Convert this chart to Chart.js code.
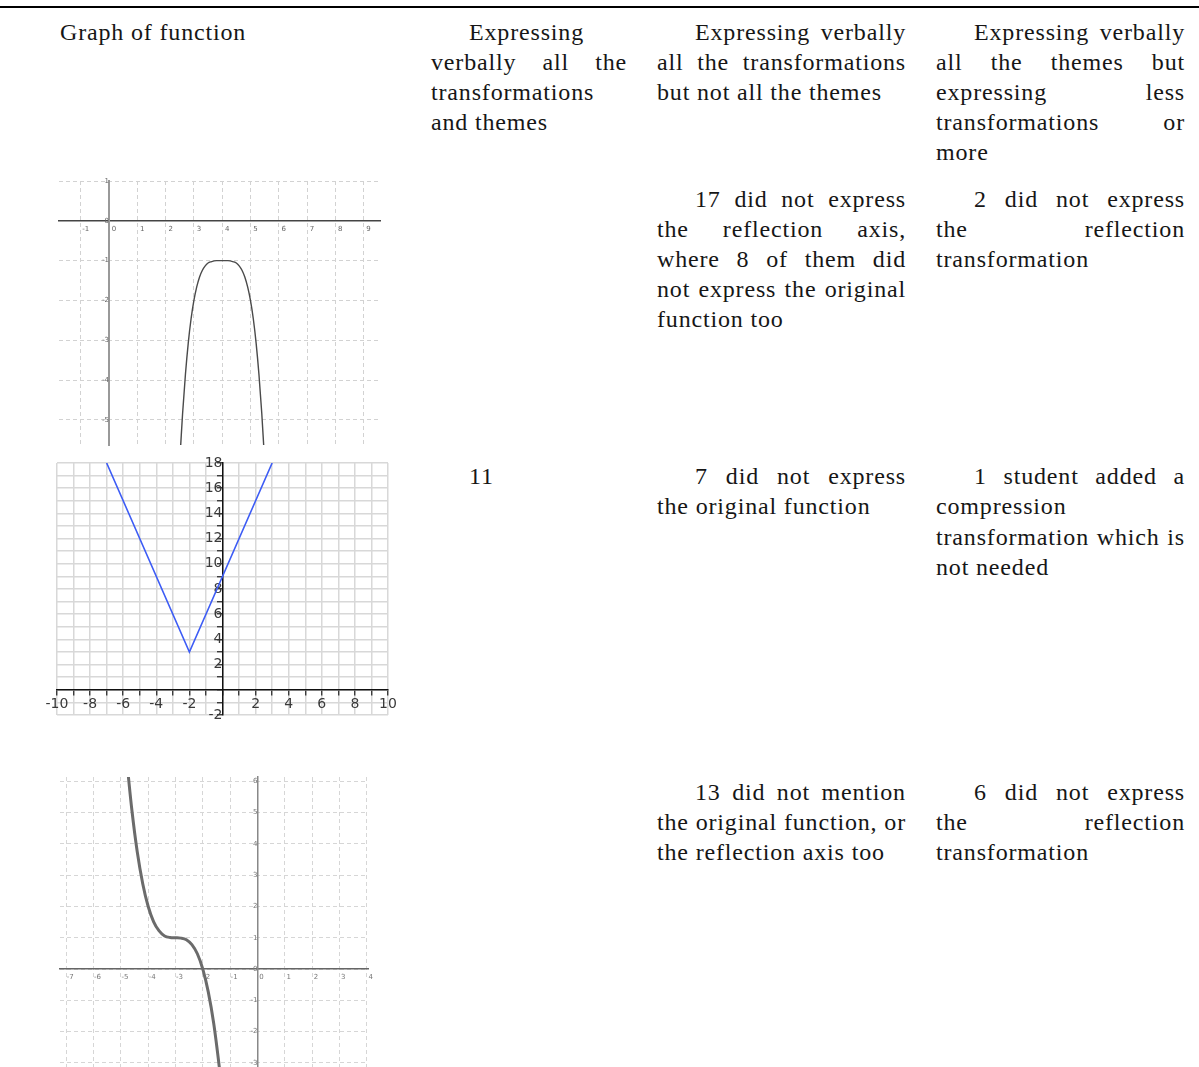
<!DOCTYPE html>
<html>
<head>
<meta charset="utf-8">
<script src="https://cdn.jsdelivr.net/npm/chart.js@4.4.1/dist/chart.umd.min.js"></script>
<style>
    body { margin: 0; width: 1199px; height: 1067px; position: relative; overflow: hidden; background: #fff; }
    .rule { position: absolute; left: 0; top: 6px; width: 1199px; height: 2px; background: #000; }
    .cell { position: absolute; font-size: 24px; color: #161616; }
    .ln { white-space: nowrap; }
    .j { display: flex; justify-content: space-between; }
    canvas { position: absolute; }
</style>
</head>
<body>
<div class="rule"></div>
<canvas id="g1" width="360" height="290" style="left:40px;top:170px"></canvas>
<canvas id="g2" width="380" height="285" style="left:30px;top:450px"></canvas>
<canvas id="g3" width="340" height="302" style="left:40px;top:765px"></canvas>
<script>
    // graph 1: flat topped curve, peak at (4, -1)
    var capX = [2.53, 2.6, 2.7, 2.8, 2.9, 3.0, 3.1, 3.2, 3.3, 3.4, 3.5, 3.6, 3.8, 4.0, 4.2, 4.4, 4.5, 4.6, 4.7, 4.8, 4.9, 5.0, 5.1, 5.2, 5.3, 5.4, 5.47];
    var capY = [-5.67, -4.84, -3.86, -3.07, -2.46, -2.0, -1.66, -1.41, -1.24, -1.13, -1.06, -1.03, -1.0, -1.0, -1.0, -1.03, -1.06, -1.13, -1.24, -1.41, -1.66, -2.0, -2.46, -3.07, -3.86, -4.84, -5.67];

    // graph 2: V shape, vertex at (-2, 3)
    var vX = [-7, -2, 3];
    var vY = [18, 3, 18];

    // graph 3: falling cubic, flat at (-3, 1)
    var cubX = [-4.75, -4.6, -4.4, -4.2, -4.0, -3.8, -3.6, -3.4, -3.2, -3.0, -2.8, -2.6, -2.4, -2.2, -2.0, -1.8, -1.6, -1.4, -1.35];
    var cubY = [6.36, 5.1, 3.74, 2.73, 2.0, 1.51, 1.22, 1.06, 1.01, 1.0, 0.99, 0.94, 0.78, 0.49, 0.0, -0.73, -1.74, -3.1, -3.49];

    var cells = [
        [60, 17, 30, ["Graph of function"]],
        [431, 17, 30, ["~Expressing", "verbally all the=", "transformations", "and themes"]],
        [657, 17, 30, ["~Expressing verbally=", "all the transformations=", "but not all the themes"]],
        [936, 17, 30, ["~Expressing verbally=", "all the themes but=", "expressing less=", "transformations or=", "more"]],
        [657, 184, 30, ["~17 did not express=", "the reflection axis,=", "where 8 of them did=", "not express the original=", "function too"]],
        [936, 184, 30, ["~2 did not express=", "the reflection=", "transformation"]],
        [431, 461, 30.3, ["~11"]],
        [657, 461, 30.3, ["~7 did not express=", "the original function"]],
        [936, 461, 30.3, ["~1 student added a=", "compression", "transformation which is=", "not needed"]],
        [657, 777, 30, ["~13 did not mention=", "the original function, or=", "the reflection axis too"]],
        [936, 777, 30, ["~6 did not express=", "the reflection=", "transformation"]]
    ];

    // pick the first serif face that is really installed
    var probe = document.createElement("canvas").getContext("2d");
    function widthIn(fam, txt) {
        probe.font = "24px " + fam;
        return probe.measureText(txt).width;
    }
    var serifs = ['"Liberation Serif"', '"Times New Roman"', 'Tinos', '"DejaVu Serif"', '"Noto Serif"'];
    var face = "serif";
    for (var k = 0; k < serifs.length; k++) {
        var t0 = "mmmwwwiiilll ABC";
        if (widthIn(serifs[k] + ", monospace", t0) !== widthIn("monospace", t0)) {
            face = serifs[k];
            break;
        }
    }
    // fit "but not all the themes" to its width in the picture (225px)
    var wRef = widthIn(face, "but not all the themes");
    var fSize = 24, spacing = 0;
    if (wRef > 225) {
        fSize = 24 * 225 / wRef;
    } else {
        spacing = (225 - wRef) / 22;
    }

    cells.forEach(function (c) {
        var box = document.createElement("div");
        box.className = "cell";
        box.style.fontFamily = face + ", serif";
        box.style.fontSize = fSize + "px";
        box.style.letterSpacing = spacing + "px";
        box.style.left = c[0] + "px";
        box.style.top = c[1] + "px";
        box.style.width = (c[0] === 431 ? 196 : 249) + "px";
        box.style.lineHeight = c[2] + "px";
        c[3].forEach(function (t) {
            var line = document.createElement("div");
            line.className = "ln";
            if (t.charAt(0) === "~") {
                t = t.slice(1);
                line.style.paddingLeft = "38px";
            }
            if (t.slice(-1) === "=") {
                t = t.slice(0, -1);
                line.className += " j";
                t.split(" ").forEach(function (w) {
                    var s = document.createElement("span");
                    s.textContent = w;
                    line.appendChild(s);
                });
            } else {
                line.textContent = t;
            }
            box.appendChild(line);
        });
        document.body.appendChild(box);
    });

    function pts(xs, ys) {
        return xs.map(function (x, i) { return {x: x, y: ys[i]}; });
    }

    function zeroPad(s) {
        s.paddingLeft = 0;
        s.paddingRight = 0;
        s.paddingTop = 0;
        s.paddingBottom = 0;
    }

    function evenOnly(v) {
        return (v % 2 === 0 && v !== 0) ? v : "";
    }

    var tiny = {family: "DejaVu Sans", size: 7};

    function base(pad) {
        return {
            responsive: false,
            animation: false,
            events: [],
            layout: {padding: pad},
            plugins: {legend: {display: false}, tooltip: {enabled: false}}
        };
    }

    // graph 1
    var o1 = base({left: 19, top: 11, right: 20, bottom: 15});
    o1.scales = {
        x: {
            type: "linear", min: -1.77, max: 9.58, position: {y: 0},
            ticks: {stepSize: 1, includeBounds: false, autoSkip: false, maxRotation: 0, font: tiny, color: "#666", padding: 4, labelOffset: 5},
            grid: {color: "#d2d2d2", drawTicks: false},
            border: {color: "#444", width: 1.6, dash: [4, 3]},
            afterFit: zeroPad
        },
        y: {
            type: "linear", min: -5.63, max: 1, position: {x: 0},
            ticks: {stepSize: 1, includeBounds: false, autoSkip: false, font: tiny, color: "#666", padding: 4},
            grid: {color: "#d2d2d2", drawTicks: false},
            border: {color: "#999", width: 2, dash: [4, 3]},
            afterFit: zeroPad
        }
    };
    new Chart(document.getElementById("g1"), {
        type: "scatter",
        data: {datasets: [{data: pts(capX, capY), showLine: true, borderColor: "#4a4a4a", borderWidth: 1.4, pointRadius: 0, cubicInterpolationMode: "monotone"}]},
        options: o1
    });

    // graph 2
    var lbl = {family: "DejaVu Sans", size: 14};
    var o2 = base({left: 27, top: 13, right: 22, bottom: 20});
    o2.scales = {
        x: {
            type: "linear", min: -10, max: 10, position: {y: 0},
            ticks: {stepSize: 1, autoSkip: false, maxRotation: 0, font: lbl, color: "#3a3a3a", padding: 1, callback: evenOnly},
            grid: {color: "#d8d8d8", lineWidth: 1.5, tickLength: 5, tickColor: "#222", tickWidth: 1.2},
            border: {color: "#111", width: 1.5},
            afterFit: zeroPad
        },
        y: {
            type: "linear", min: -2, max: 18, position: {x: 0},
            ticks: {stepSize: 1, autoSkip: false, font: lbl, color: "#3a3a3a", padding: 3, callback: evenOnly},
            grid: {color: "#d8d8d8", lineWidth: 1.5, tickLength: 5, tickColor: "#222", tickWidth: 1.2},
            border: {color: "#111", width: 1.5},
            afterFit: zeroPad
        }
    };
    new Chart(document.getElementById("g2"), {
        type: "scatter",
        data: {datasets: [{data: pts(vX, vY), showLine: true, borderColor: "#3d5cf5", borderWidth: 1.6, pointRadius: 0, tension: 0}]},
        options: o2
    });

    // graph 3
    var o3 = base({left: 20, top: 12, right: 12, bottom: 0});
    o3.scales = {
        x: {
            type: "linear", min: -7.23, max: 4.05, position: {y: 0},
            ticks: {stepSize: 1, includeBounds: false, autoSkip: false, maxRotation: 0, font: tiny, color: "#777", padding: 4, labelOffset: 4},
            grid: {color: "#d6d6d6", drawTicks: false},
            border: {color: "#666", width: 1.5, dash: [4, 3]},
            afterFit: zeroPad
        },
        y: {
            type: "linear", min: -3.13, max: 6.14, position: {x: 0},
            ticks: {stepSize: 1, includeBounds: false, autoSkip: false, font: tiny, color: "#777", padding: 3},
            grid: {color: "#d6d6d6", drawTicks: false},
            border: {color: "#888", width: 1.5, dash: [4, 3]},
            afterFit: zeroPad
        }
    };
    new Chart(document.getElementById("g3"), {
        type: "scatter",
        data: {datasets: [{data: pts(cubX, cubY), showLine: true, borderColor: "#6b6b6b", borderWidth: 3, pointRadius: 0, cubicInterpolationMode: "monotone"}]},
        options: o3
    });
</script>
</body>
</html>
